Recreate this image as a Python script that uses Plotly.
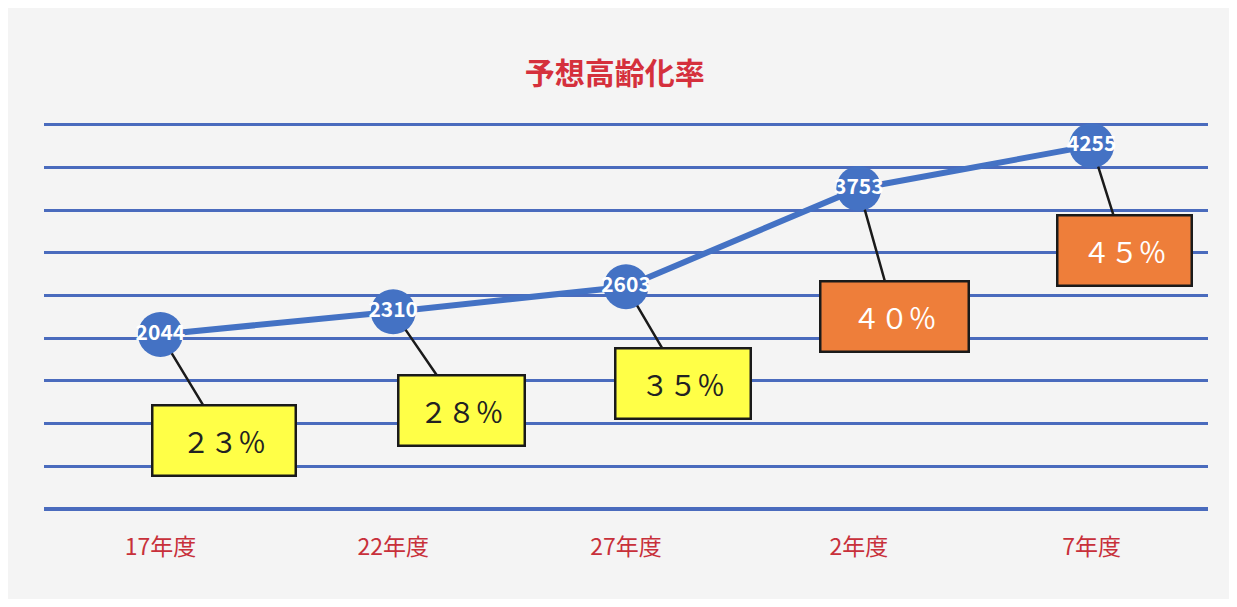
import plotly.graph_objects as go

categories = ["17年度", "22年度", "27年度", "2年度", "7年度"]
values = [2044, 2310, 2603, 3753, 4255]
rate_labels = ["２３％", "２８％", "３５％", "４０％", "４５％"]

# styling (not data)
box_colors = ["#ffff47", "#ffff47", "#ffff47", "#ee7e3a", "#ee7e3a"]
text_colors = ["#222222", "#222222", "#222222", "#ffffff", "#ffffff"]
offsets = [(64, 106), (68, 99), (57, 97), (36, 128), (33, 105)]
box_widths = [141, 124, 133, 146, 132]

BLUE = "#4472c4"
FONT = "Noto Sans CJK JP"

fig = go.Figure()
fig.add_trace(go.Scatter(
    x=categories, y=values,
    mode="lines+markers+text",
    line=dict(color=BLUE, width=6),
    marker=dict(size=45, color=BLUE),
    text=[str(v) for v in values],
    textposition="middle center",
    textfont=dict(color="white", size=21, family=FONT, weight="bold"),
    hoverinfo="skip",
    showlegend=False,
))

for cat, val, lab, bc, tc, (ax, ay), bw in zip(categories, values, rate_labels, box_colors,
                                               text_colors, offsets, box_widths):
    fig.add_annotation(
        x=cat, y=val, xref="x", yref="y",
        text=lab, showarrow=True, arrowhead=0, arrowwidth=2.5, arrowcolor="#1a1a1a",
        ax=ax, ay=ay, standoff=22,
        bgcolor=bc, bordercolor="#1a1a1a", borderwidth=2.5, borderpad=0,
        width=bw, height=68,
        font=dict(size=28, color=tc, family=FONT),
    )

fig.update_layout(
    width=1221, height=591,
    margin=dict(l=36, r=21, t=115, b=90),
    paper_bgcolor="#f4f4f4",
    plot_bgcolor="rgba(0,0,0,0)",
    title=dict(text="予想高齢化率", x=0.497, xanchor="center", y=0.889, yanchor="middle",
               font=dict(size=30, color="#d5303c", family=FONT, weight="bold")),
    xaxis=dict(
        range=[-0.5, 4.5],
        showgrid=False, zeroline=False, showline=False, ticks="",
        tickfont=dict(size=23, color="#c8303a", family=FONT),
        ticklabelstandoff=22, fixedrange=True,
    ),
    yaxis=dict(
        range=[0, 4520], tickvals=[0, 500, 1000, 1500, 2000, 2500, 3000, 3500, 4000, 4500],
        showticklabels=False,
        showgrid=True, gridcolor="#4a6bbd", gridwidth=2.5,
        zeroline=True, zerolinecolor="#4a6bbd", zerolinewidth=3.5,
        showline=False, ticks="", fixedrange=True,
    ),
)

fig.write_html("out.html")
